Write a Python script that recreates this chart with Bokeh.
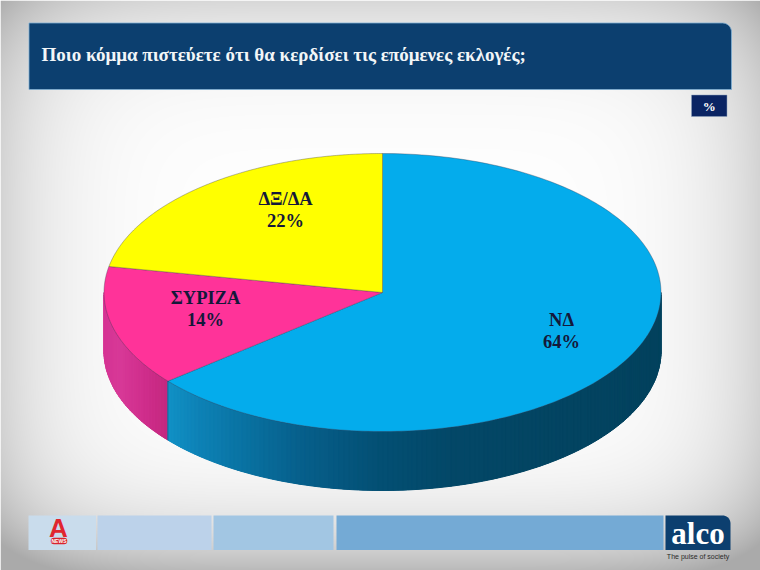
import numpy as np
from bokeh.plotting import figure
from bokeh.models import Range1d
from bokeh.core.properties import value
from bokeh.embed import file_html
from bokeh.resources import INLINE

# ---- chart data (clockwise from 12 o'clock)
parties = ["ΝΔ", "ΣΥΡΙΖΑ", "ΔΞ/ΔΑ"]
shares = [64, 14, 22]
top_colors = ["#04ACEC", "#FF3399", "#FFFF00"]
label_px = [(561, 319), (205, 297), (285, 198)]
title = "Ποιο κόμμα πιστεύετε ότι θα κερδίσει τις επόμενες εκλογές;"
unit = "%"

W, H = 760, 570
CX, CY, RX, RY, DEPTH = 382.0, 292.0, 278.5, 139.0, 59.0


def Y(py):
    return H - np.asarray(py, dtype=float)


p = figure(width=W, height=H, output_backend="svg", toolbar_location=None,
           x_range=Range1d(0, W), y_range=Range1d(0, H), min_border=0)
p.axis.visible = False
p.grid.visible = False
p.outline_line_color = None
p.background_fill_color = "#ffffff"
p.border_fill_color = "#ffffff"

# ---- slide background: soft grey vignette
xx, yy = np.meshgrid(np.arange(W) + 0.5, np.arange(H) + 0.5)
ex_ = np.abs(xx - 380) / 380
ey_ = (yy - 285) / 285
dark = 42 * ex_ ** 6 + np.where(ey_ < 0, 38, 68) * np.abs(ey_) ** 5
grey = np.clip(254 - dark, 170, 255).astype(np.uint8)
rgba = np.zeros((H, W, 4), dtype=np.uint8)
rgba[..., 0] = grey
rgba[..., 1] = grey
rgba[..., 2] = grey
rgba[..., 3] = 255
img = rgba[::-1].copy().view(np.uint32).reshape(H, W)
p.image_rgba(image=[img], x=0, y=0, dw=W, dh=H)


def round_tr(x0, x1, y0, y1, r):
    a = np.linspace(np.pi / 2, 0, 10)
    xs = [x0] + list(x1 - r + r * np.cos(a)) + [x1, x0]
    ys = [y0] + list(y0 + r - r * np.sin(a)) + [y1, y1]
    return xs, list(Y(ys))


# ---- header
hx, hy = round_tr(28.5, 731, 22.5, 89, 9)
p.patch(hx, hy, fill_color="#0C3F6F", line_color="#7FAED3", line_width=0.8)
p.text([41], Y([54]), text=[title], text_font=value("Liberation Serif"), text_font_style="bold",
       text_font_size="19px", text_color="#F2F6F8", text_baseline="middle", text_align="left")
p.quad(left=[691], right=[726.5], top=Y([94.5]), bottom=Y([116]), fill_color="#0A2463", line_color="#8FA3BC", line_width=0.5)
p.text([708.7], Y([105.5]), text=[unit], text_font=value("Liberation Serif"), text_font_style="bold",
       text_font_size="13px", text_color="#FFFFFF", text_baseline="middle", text_align="center")

# ---- pie
fr = np.cumsum([0] + shares) / float(sum(shares))
th = 2 * np.pi * fr


def ex(t):
    return CX + RX * np.sin(t)


def ey(t):
    return CY - RY * np.cos(t)


# side wall, drawn as narrow shaded strips over the visible front half
wall_stops = {
    0: ([167, 200, 240, 300, 380, 450, 520, 661],
        [(18, 146, 198), (14, 130, 182), (10, 116, 164), (7, 96, 140), (4, 80, 116), (3, 72, 104), (3, 70, 100), (3, 66, 94)]),
    1: ([104, 120, 145, 167],
        [(214, 52, 148), (216, 58, 152), (208, 46, 140), (196, 40, 128)]),
}
for i, (a0, a1) in ((1, (np.pi * 1.5, th[1])), (0, (th[1], np.pi / 2))):
    steps = max(2, int(abs(a1 - a0) / np.radians(1.0)))
    ts = np.linspace(a0, a1, steps)
    sx, sc = wall_stops[i]
    sc = np.array(sc, dtype=float)
    xs, ys, cols = [], [], []
    for t0, t1 in zip(ts[:-1], ts[1:]):
        x0, x1 = ex(t0), ex(t1)
        y0, y1 = ey(t0), ey(t1)
        xm = (x0 + x1) / 2
        c = [int(np.interp(xm, sx, sc[:, k])) for k in range(3)]
        xs.append([x0, x1, x1, x0])
        ys.append(list(Y([y0, y1, y1 + DEPTH, y0 + DEPTH])))
        cols.append("#%02X%02X%02X" % tuple(c))
    p.patches(xs, ys, fill_color=cols, line_color=None)
    p.patches(xs, ys, fill_color=cols, line_color=cols, line_width=1.0)

# top surface slices
for i in range(len(shares)):
    t = np.linspace(th[i], th[i + 1], 200)
    xs = np.r_[CX, ex(t)]
    ys = Y(np.r_[CY, ey(t)])
    p.patch(xs, ys, fill_color=top_colors[i], line_color="#3C3C50", line_width=0.6, line_alpha=0.6)

# slice divider on the wall
t = th[1]
p.line([ex(t), ex(t)], Y([ey(t), ey(t) + DEPTH]), line_color="#1A2A50", line_width=0.6, line_alpha=0.6)

for name, share, (lx, ly) in zip(parties, shares, label_px):
    p.text([lx], Y([ly]), text=[name], text_font=value("Liberation Serif"), text_font_style="bold",
           text_font_size="18.5px", text_color="#14183A", text_baseline="middle", text_align="center")
    p.text([lx], Y([ly + 22]), text=["%d%%" % share], text_font=value("Liberation Serif"), text_font_style="bold",
           text_font_size="18.5px", text_color="#14183A", text_baseline="middle", text_align="center")

# ---- footer strip
p.quad(left=[28, 97, 213, 336], right=[95.5, 211, 333, 663], top=Y([515] * 4), bottom=Y([549.5] * 4),
       fill_color=["#C9DCEC", "#BCD2EA", "#A2C6E3", "#74AAD5"], line_color=None)
lx_, ly_ = round_tr(665, 730, 515, 549.5, 8)
p.patch(lx_, ly_, fill_color="#0C3F6F", line_color=None)
p.text([697.5], Y([532.5]), text=["alco"], text_font=value("Liberation Serif"), text_color="#FFFFFF",
       text_font_style="bold", text_font_size="31px", text_baseline="middle", text_align="center")
p.text([697.5], Y([555.5]), text=["The pulse of society"], text_font=value("Liberation Sans"), text_color="#2A2A2A",
       text_font_size="7px", text_baseline="middle", text_align="center")

# Alpha News mark
p.text([58], Y([527]), text=["A"], text_font=value("Liberation Sans"), text_font_style="bold",
       text_color="#E0262F", text_font_size="26px", text_baseline="middle", text_align="center")
p.line([53.5, 63.5], Y([540.5, 540.5]), line_color="#D9232E", line_width=6.5, line_cap="round")
p.text([58.5], Y([540.7]), text=["NEWS"], text_font=value("Liberation Sans"), text_font_style="bold",
       text_color="#FFFFFF", text_font_size="5px", text_baseline="middle", text_align="center")

open("out.html", "w").write(file_html(p, INLINE))
